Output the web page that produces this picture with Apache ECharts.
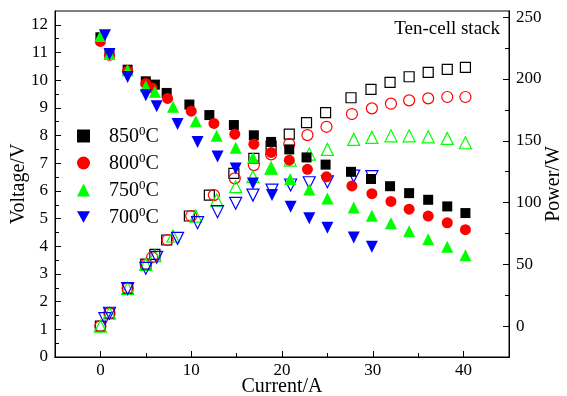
<!DOCTYPE html>
<html><head><meta charset="utf-8">
<script src="https://cdn.jsdelivr.net/npm/echarts@6/dist/echarts.min.js"></script>
<style>html,body{margin:0;padding:0;background:#fff}#c{width:567px;height:396px}</style>
</head><body><div id="c"></div>
<script>
// Tick labels
const xTicks = [0, 10, 20, 30, 40];
const xMinor = [5, 15, 25, 35];
const vTicks = [0,1,2,3,4,5,6,7,8,9,10,11,12];
const vMinor = [0.5,1.5,2.5,3.5,4.5,5.5,6.5,7.5,8.5,9.5,10.5,11.5];
const pTicks = [0, 50, 100, 150, 200, 250];
const pMinor = [25, 75, 125, 175, 225];
const legendNames = ['850', '800', '750', '700'];

// 850 C
const i850 = [0, 1, 3, 5, 6, 7.3, 9.8, 12, 14.7, 16.9, 18.8, 20.8, 22.7, 24.8, 27.6, 29.8, 31.9, 34, 36.1, 38.2, 40.2];
const v850 = [11.55, 10.95, 10.38, 9.96, 9.84, 9.54, 9.12, 8.74, 8.38, 8.01, 7.77, 7.5, 7.21, 6.95, 6.69, 6.43, 6.17, 5.92, 5.68, 5.44, 5.2];
const p850 = [0, 10.4, 30.6, 50.2, 58, 69.7, 89.1, 106, 123.6, 135.8, 145.7, 155.4, 164.6, 172.7, 184.8, 191.6, 197.2, 201.8, 205.3, 207.8, 209.4];
// 800 C
const i800 = [0, 1, 3, 5, 5.7, 7.4, 10, 12.5, 14.8, 16.9, 18.8, 20.8, 22.8, 24.9, 27.7, 29.9, 32, 34, 36.1, 38.2, 40.2];
const v800 = [11.4, 10.9, 10.34, 9.88, 9.72, 9.34, 8.88, 8.44, 8.05, 7.69, 7.39, 7.11, 6.78, 6.51, 6.18, 5.9, 5.62, 5.34, 5.09, 4.85, 4.6];
const p800 = [0, 10.4, 30.6, 49.5, 55.7, 69.7, 89.1, 106, 119.6, 130.3, 139, 147.3, 154.6, 161.3, 171.6, 176.2, 180, 182.7, 184.3, 185.4, 185.4];
// 750 C
const i750 = [0, 1, 3, 5, 6, 8, 10.5, 12.8, 14.9, 16.8, 18.8, 20.9, 23, 25, 27.9, 29.9, 32, 34, 36.1, 38.2, 40.2];
const v750 = [11.6, 10.95, 10.36, 9.78, 9.58, 9.04, 8.52, 7.99, 7.56, 7.2, 6.8, 6.43, 6.05, 5.73, 5.4, 5.1, 4.83, 4.54, 4.25, 3.98, 3.68];
const p750 = [0, 10.4, 30.6, 50, 57, 72.9, 89, 102, 112.8, 120.9, 128, 134.4, 139.2, 143, 151.1, 152.7, 154, 154, 153.2, 151.9, 148.4];
// 700 C
const i700 = [0.5, 1, 3, 5, 6.2, 8.5, 10.7, 12.9, 14.9, 16.8, 18.9, 20.95, 23, 25, 27.9, 29.9];
const v700 = [11.62, 10.95, 10.12, 9.46, 9.06, 8.42, 7.77, 7.24, 6.81, 6.27, 5.85, 5.43, 5.01, 4.67, 4.32, 3.98];
const p700 = [6, 10.4, 30.4, 46.8, 55.7, 71, 83.7, 92.6, 99.4, 106, 110.1, 114.2, 116, 116.8, 121.4, 120.9];

const FONT = 'Liberation Serif';
const pair = (xs, ys) => xs.map((x, k) => [x, ys[k]]);
const DOWN_TRI = 'path://M0,0L10,0L5,8.66Z';

const axisBase = (extra) => Object.assign({
  type: 'value', splitLine: { show: false }, nameMoveOverlap: false,
  axisLine: { show: true, onZero: false, lineStyle: { color: '#000', width: 1 } },
  axisTick: { show: true, inside: true, length: 6, lineStyle: { color: '#000' } },
  axisLabel: { color: '#000', fontFamily: FONT, fontSize: 17 },
  nameTextStyle: { color: '#000', fontFamily: FONT, fontSize: 20 }
}, extra);
const minorAxis = (extra, vals) => Object.assign({
  type: 'value', splitLine: { show: false },
  axisLine: { show: true, onZero: false, lineStyle: { color: '#000', width: 1 } },
  axisTick: { show: true, inside: true, length: 4, customValues: vals, lineStyle: { color: '#000', width: 1 } },
  axisLabel: { show: false }
}, extra);

const filled = (name, sym, color, size, xs, ys) => ({
  name, type: 'scatter', xAxisIndex: 0, yAxisIndex: 0, symbol: sym, symbolSize: size,
  itemStyle: { color, opacity: 1 }, data: pair(xs, ys), z: 3
});
const open = (name, sym, color, size, xs, ys) => ({
  name, type: 'scatter', xAxisIndex: 0, yAxisIndex: 2, symbol: sym, symbolSize: size,
  itemStyle: { color: 'rgba(0,0,0,0)', borderColor: color, borderWidth: 1.2, opacity: 1 },
  data: pair(xs, ys), z: 2
});

const chart = echarts.init(document.getElementById('c'), null, { renderer: 'canvas' });
chart.setOption({
  animation: false,
  backgroundColor: '#fff',
  grid: { left: 55, right: 58, top: 11, bottom: 39, containLabel: false, outerBoundsMode: 'none',
    show: true, borderColor: '#000', borderWidth: 1, backgroundColor: 'transparent' },
  xAxis: [
    axisBase({ min: -5, max: 45, position: 'bottom', name: 'Current/A', nameLocation: 'middle', nameGap: 20,
      axisTick: { show: true, inside: true, length: 6, customValues: xTicks, lineStyle: { color: '#000' } },
      axisLabel: { color: '#000', fontFamily: FONT, fontSize: 17, margin: 5, customValues: xTicks } }),
    minorAxis({ min: -5, max: 45, position: 'bottom' }, xMinor)
  ],
  yAxis: [
    axisBase({ min: 0, max: 12.5, position: 'left', name: 'Voltage/V', nameLocation: 'middle', nameGap: 26, nameRotate: 90,
      axisTick: { show: true, inside: true, length: 6, customValues: vTicks, lineStyle: { color: '#000' } },
      axisLabel: { color: '#000', fontFamily: FONT, fontSize: 17, margin: 7, customValues: vTicks } }),
    minorAxis({ min: 0, max: 12.5, position: 'left' }, vMinor),
    axisBase({ min: -25, max: 255, position: 'right', name: 'Power/W', nameLocation: 'middle', nameGap: 35, nameRotate: 90,
      axisTick: { show: true, inside: true, length: 6, customValues: pTicks, lineStyle: { color: '#000' } },
      axisLabel: { color: '#000', fontFamily: FONT, fontSize: 17, margin: 7, customValues: pTicks } }),
    minorAxis({ min: -25, max: 255, position: 'right' }, pMinor)
  ],
  legend: {
    data: [
      { name: '850', icon: 'rect' },
      { name: '800', icon: 'circle' },
      { name: '750', icon: 'triangle' },
      { name: '700', icon: DOWN_TRI }
    ],
    orient: 'vertical', left: 72, top: 120, itemWidth: 13, itemHeight: 13, itemGap: 5,
    formatter: n => `{a|${n}}{s|0}{a|C}`,
    textStyle: { color: '#000', fontFamily: FONT, fontSize: 20, padding: [0, 0, 0, 14],
      rich: { a: { fontFamily: FONT, fontSize: 20, color: '#000', verticalAlign: 'bottom', lineHeight: 22 },
              s: { fontFamily: FONT, fontSize: 13, color: '#000', verticalAlign: 'bottom', lineHeight: 22, padding: [0, 0, 9, 0] } } }
  },
  graphic: [{ type: 'text', right: 67, top: 20, style: { text: 'Ten-cell stack', fontFamily: FONT, fontSize: 19, fill: '#000' } }],
  series: [
    filled('850', 'rect', '#000000', 10, i850, v850),
    filled('800', 'circle', '#ff0000', 11, i800, v800),
    filled('750', 'triangle', '#00ff00', 12, i750, v750),
    filled('700', DOWN_TRI, '#0000ff', 12, i700, v700),
    open('850P', 'rect', '#000000', 10, i850, p850),
    open('800P', 'circle', '#ff0000', 11, i800, p800),
    open('750P', 'triangle', '#00ff00', 12, i750, p750),
    open('700P', DOWN_TRI, '#0000ff', 12, i700, p700)
  ]
});
</script></body></html>
